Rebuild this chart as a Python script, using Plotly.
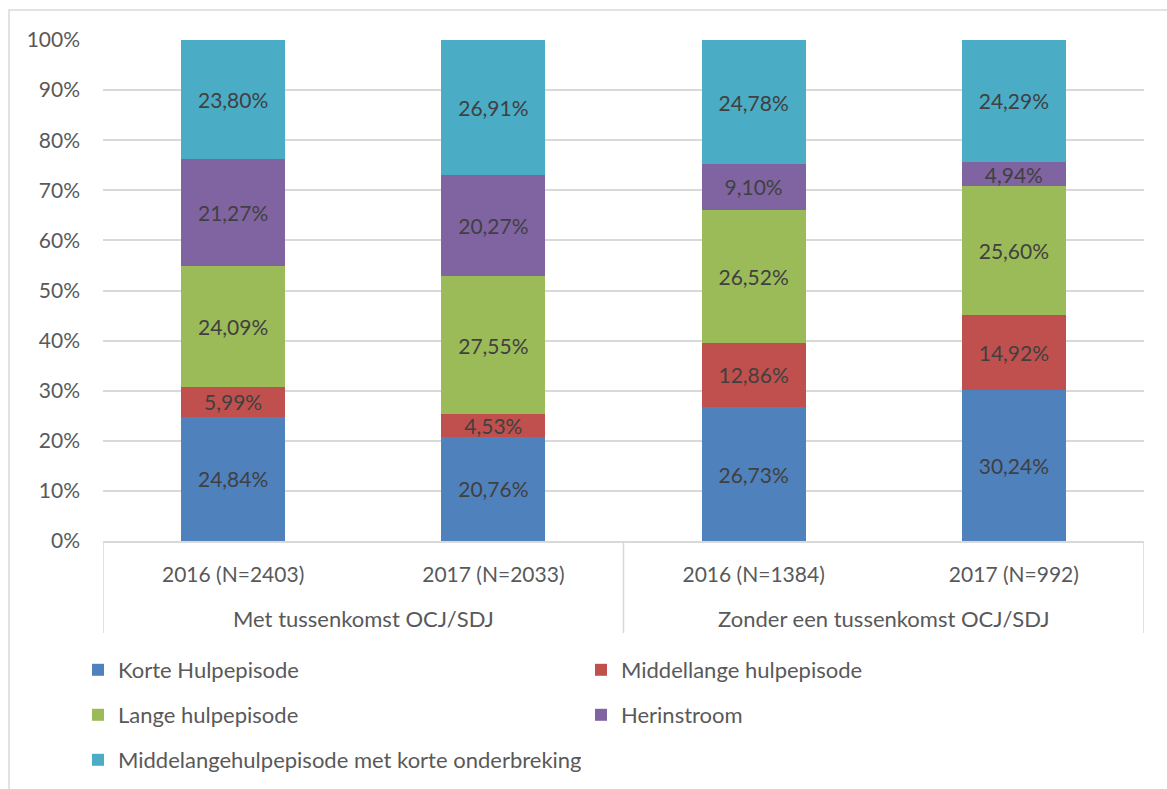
import plotly.graph_objects as go

group_labels = ["Met tussenkomst OCJ/SDJ", "Zonder een tussenkomst OCJ/SDJ"]
years = ["2016 (N=2403)", "2017 (N=2033)", "2016 (N=1384)", "2017 (N=992)"]
x_keys = ["A|2016 (N=2403)", "A|2017 (N=2033)", "B|2016 (N=1384)", "B|2017 (N=992)"]

series_names = ["Korte Hulpepisode", "Middellange hulpepisode", "Lange hulpepisode",
                "Herinstroom", "Middelangehulpepisode met korte onderbreking"]
korte = [24.84, 20.76, 26.73, 30.24]
middellange = [5.99, 4.53, 12.86, 14.92]
lange = [24.09, 27.55, 26.52, 25.60]
herinstroom = [21.27, 20.27, 9.10, 4.94]
onderbreking = [23.80, 26.91, 24.78, 24.29]
series_values = [korte, middellange, lange, herinstroom, onderbreking]
colors = ["#4F81BD", "#C0504D", "#9BBB59", "#8064A2", "#4BACC6"]
legend_ids = ["legend", "legend", "legend2", "legend2", "legend3"]

FONT = "Lato"
TXT = "#595959"
GRID = "#d9d9d9"
PH = 501.0
PW = 1041.0

fig = go.Figure()
for name, vals, col, lg in zip(series_names, series_values, colors, legend_ids):
    fig.add_trace(go.Bar(
        x=x_keys, y=vals, name=name, marker_color=col, marker_line_width=0,
        texttemplate="%{y:.2f}%", textposition="inside", insidetextanchor="middle",
        textfont=dict(family=FONT, size=21, color="#404040"),
        constraintext="none", legend=lg,
    ))

leg_common = dict(orientation="h", xanchor="left", yanchor="middle",
                  entrywidth=458, entrywidthmode="pixels",
                  font=dict(family=FONT, size=22, color=TXT),
                  itemclick=False, traceorder="normal", bgcolor="rgba(0,0,0,0)")
lx = -25 / PW

shapes = [dict(type="rect", xref="paper", yref="paper",
               x0=-94 / PW, x1=1.1, y0=-0.7, y1=1 + 30 / PH,
               line=dict(color=GRID, width=1.5), fillcolor="rgba(0,0,0,0)", layer="below")]
for xv in [-0.5, 1.5, 3.5]:
    shapes.append(dict(type="line", xref="x", yref="paper", x0=xv, x1=xv,
                       y0=0, y1=-92 / PH, line=dict(color=GRID, width=1.5)))

annotations = [dict(text=g, xref="x", yref="paper", x=xc, y=-77 / PH, showarrow=False,
                    xanchor="center", yanchor="middle",
                    font=dict(family=FONT, size=22, color=TXT))
               for g, xc in zip(group_labels, [0.5, 2.5])]

fig.update_layout(
    barmode="stack", bargap=0.6, separators=",.",
    width=1167, height=789,
    margin=dict(l=103, r=23, t=40, b=248, autoexpand=False),
    paper_bgcolor="white", plot_bgcolor="white",
    font=dict(family=FONT, size=21, color=TXT),
    legend=dict(x=lx, y=(541 - 670) / PH, **leg_common),
    legend2=dict(x=lx, y=(541 - 715) / PH, **leg_common),
    legend3=dict(x=lx, y=(541 - 760) / PH, **leg_common),
    xaxis=dict(type="category", showline=True, linecolor=GRID, linewidth=1.5,
               tickmode="array", tickvals=x_keys, ticktext=years,
               tickfont=dict(family=FONT, size=21, color=TXT), ticks="",
               ticklabelstandoff=14, range=[-0.5, 3.5]),
    yaxis=dict(range=[0, 100], tick0=0, dtick=10, ticksuffix="%",
               showgrid=True, gridcolor=GRID, gridwidth=1.5, zeroline=False,
               tickfont=dict(family=FONT, size=21, color=TXT), ticklabelstandoff=22),
    shapes=shapes, annotations=annotations,
)
fig.write_html("out.html", config={"displayModeBar": False},
               post_script="document.body.style.margin='0';")
